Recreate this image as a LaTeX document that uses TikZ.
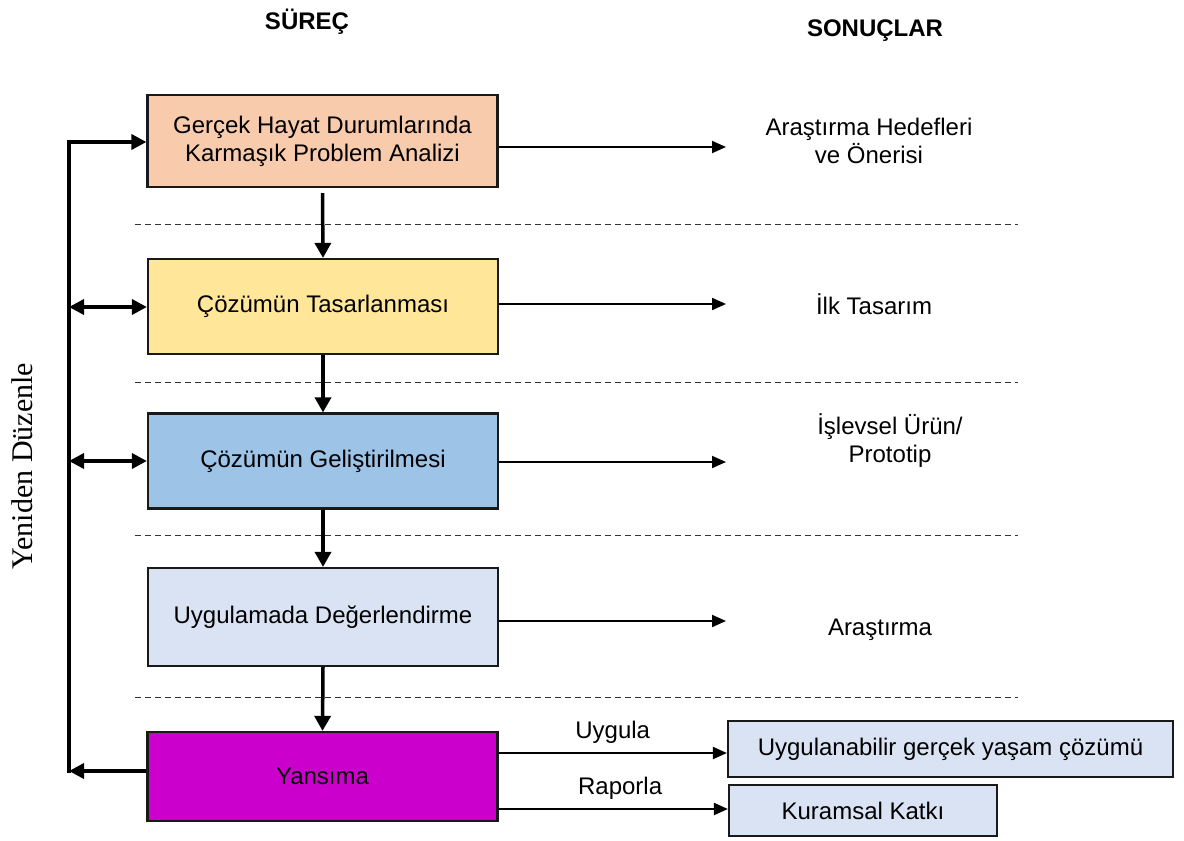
\documentclass[tikz,border=0pt]{standalone}
\usepackage{fontspec}
\setmainfont{Liberation Sans}
\newfontfamily\seriffont{Liberation Serif}
\usetikzlibrary{arrows.meta}

\definecolor{peach}{HTML}{F8CBAD}
\definecolor{sand}{HTML}{FFE699}
\definecolor{sky}{HTML}{9DC3E6}
\definecolor{mist}{HTML}{DAE3F3}
\definecolor{violet}{HTML}{CC00CC}

\tikzset{
  txt/.style={font=\fontsize{24}{28}\selectfont, align=center, inner sep=0pt},
  stage/.style={txt, draw=black!90, line width=2.2pt, minimum width=350pt},
  outbox/.style={txt, draw=black!90, line width=2.2pt, fill=mist},
  head/.style={font=\fontsize{24}{28}\selectfont\bfseries, inner sep=0pt},
  divider/.style={line width=1pt, dash pattern=on 6pt off 4pt, black!80},
  down/.style={line width=3.5pt, -{Triangle[length=15pt,width=16pt]}},
  loop/.style={line width=4pt},
  loopto/.style={line width=3.5pt, -{Triangle[length=15pt,width=15pt]}},
  loopboth/.style={line width=3.5pt, {Triangle[length=15pt,width=15pt]}-{Triangle[length=15pt,width=15pt]}},
  result/.style={line width=2pt, -{Triangle[length=14pt,width=12pt]}}
}

\begin{document}
\begin{tikzpicture}[x=1pt,y=-1pt]
  \useasboundingbox (0,0) rectangle (1184,841);

  % column headings
  \node[head] (h1) at (307,22) {SÜREÇ};
  \node[head] (h2) at (875,31) {SONUÇLAR};

  % process stages
  \node[stage, fill=peach,  minimum height=92pt] (b1) at (322.5,141) {Gerçek Hayat Durumlarında\\Karmaşık Problem Analizi};
  \node[stage, fill=sand,   minimum height=95pt] (b2) at (323,306.5) {Çözümün Tasarlanması};
  \node[stage, fill=sky,    minimum height=95pt] (b3) at (323,461) {Çözümün Geliştirilmesi};
  \node[stage, fill=mist,   minimum height=98pt] (b4) at (323,617) {Uygulamada Değerlendirme};
  \node[stage, fill=violet, minimum height=89pt] (b5) at (322.5,776.5) {Yansıma};

  % separators between stages
  \draw[divider] (135,224) -- (1018,224);
  \draw[divider] (135,382) -- (1018,382);
  \draw[divider] (135,535) -- (1018,535);
  \draw[divider] (135,697) -- (1018,697);

  % flow between stages
  \draw[down] ([yshift=-5pt]b1.south) -- (b2.north);
  \draw[down] (b2.south) -- (b3.north);
  \draw[down] (b3.south) -- (b4.north);
  \draw[down] (b4.south) -- (b5.north);

  % outcomes
  \node[txt] (r1) at (869,141) {Araştırma Hedefleri\\ve Önerisi};
  \node[txt] (r2) at (874,304) {İlk Tasarım};
  \node[txt] (r3) at (890,441) {İşlevsel Ürün/\\Prototip};
  \node[txt] (r4) at (880,630) {Araştırma};

  \coordinate (e1) at (726,147);
  \coordinate (e2) at (726,304);
  \coordinate (e3) at (726,462);
  \coordinate (e4) at (726,621);
  \draw[result] (b1.east |- e1) -- (e1);
  \draw[result] (b2.east |- e2) -- (e2);
  \draw[result] (b3.east |- e3) -- (e3);
  \draw[result] (b4.east |- e4) -- (e4);

  % final products of reflection
  \node[outbox, minimum width=445pt, minimum height=56pt] (o1) at (950.5,749) {Uygulanabilir gerçek yaşam çözümü};
  \node[outbox, minimum width=268pt, minimum height=51pt] (o2) at (863,810.5) {Kuramsal Katkı};
  \coordinate (u) at (0,753);
  \coordinate (p) at (0,809);
  \draw[result] (b5.east |- u) -- (o1.west |- u)
    node[txt, pos=0.5, above=9pt] (l1) {Uygula};
  \draw[result] (b5.east |- p) -- (o2.west |- p)
    node[txt, pos=0.53, above=9pt] (l2) {Raporla};

  % feedback loop
  \coordinate (lt) at (69,142);
  \coordinate (lb) at (69,771);
  \draw[loop] (69,139.5) -- (69,773);
  \draw[loopto] (lt) -- (b1.west |- lt);
  \draw[loopboth] (69,307) -- (b2.west |- 0,307);
  \draw[loopboth] (69,461) -- (b3.west |- 0,461);
  \draw[loopto] (b5.west |- lb) -- (lb);
  \node[font=\seriffont\fontsize{30}{34}\selectfont, rotate=90, inner sep=0pt] (loopname) at (22,466) {Yeniden Düzenle};
\end{tikzpicture}
\end{document}
